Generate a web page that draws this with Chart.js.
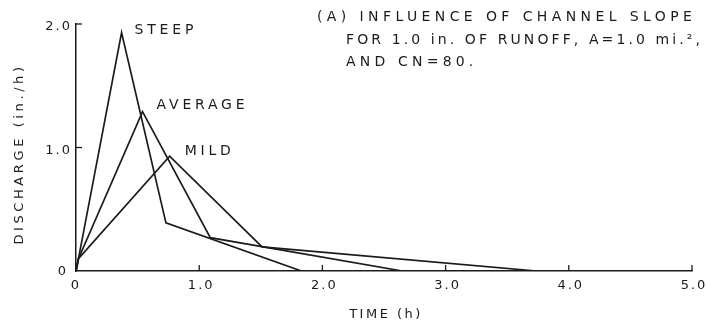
<!DOCTYPE html>
<html>
<head>
<meta charset="utf-8">
<script src="https://cdn.jsdelivr.net/npm/chart.js@4/dist/chart.umd.min.js"></script>
<style>
  html, body { margin: 0; padding: 0; background: #fff; }
  #wrap { width: 706px; height: 323px; }
</style>
</head>
<body>
<div id="wrap"><canvas id="hydroChart" width="706" height="323"></canvas></div>
<script>
// Hydrograph break points: time (h) and discharge (in./h)
const steepTime = [0, 0.02, 0.37, 0.73, 1.83];
const steepFlow = [0, 0.1, 1.93, 0.39, 0];
const averageTime = [0, 0.02, 0.54, 1.09, 2.65];
const averageFlow = [0, 0.1, 1.29, 0.27, 0];
const mildTime = [0, 0.02, 0.76, 1.51, 3.74];
const mildFlow = [0, 0.1, 0.93, 0.195, 0];

const xTicks = [0, 1, 2, 3, 4, 5];
const yTicks = [0, 1, 2];
const curveNames = ["STEEP", "AVERAGE", "MILD"];
const caption = [
  "(A) INFLUENCE OF CHANNEL SLOPE",
  "FOR 1.0 in. OF RUNOFF, A=1.0 mi.\u00b2,",
  "AND CN=80."
];

const INK = "#1b1b1b";
const FONT = "13px 'DejaVu Sans', sans-serif";
const BIG_FONT = "14px 'DejaVu Sans', sans-serif";

function toPoints(ts, qs) {
  return ts.map((t, i) => ({ x: t, y: qs[i] }));
}

function fmt(v) {
  return v === 0 ? "0" : v.toFixed(1);
}

// hand-lettered look: wide spacing between capitals
function spaced(ctx, text, x, y, spacing) {
  ctx.letterSpacing = spacing + "px";
  ctx.fillText(text, x, y);
  ctx.letterSpacing = "0px";
}

const lettering = {
  id: "lettering",
  afterDraw(chart) {
    const ctx = chart.ctx;
    const xs = chart.scales.x, ys = chart.scales.y;
    const area = chart.chartArea;
    ctx.save();
    ctx.fillStyle = INK;
    ctx.strokeStyle = INK;
    ctx.lineWidth = 1.3;
    ctx.font = FONT;
    ctx.textBaseline = "middle";

    // tick marks point into the plot
    xTicks.slice(1).forEach(v => {
      const px = xs.getPixelForValue(v);
      ctx.beginPath();
      ctx.moveTo(px, area.bottom);
      ctx.lineTo(px, area.bottom - 6);
      ctx.stroke();
    });
    yTicks.slice(1).forEach(v => {
      const py = ys.getPixelForValue(v);
      ctx.beginPath();
      ctx.moveTo(area.left, py);
      ctx.lineTo(area.left + 6, py);
      ctx.stroke();
    });

    // tick labels
    ctx.textAlign = "center";
    xTicks.forEach(v => {
      const px = xs.getPixelForValue(v) + (v === 0 ? -1 : 1);
      spaced(ctx, fmt(v), px + 1, area.bottom + 15, 2);
    });
    ctx.textAlign = "right";
    yTicks.forEach(v => {
      const py = ys.getPixelForValue(v) + (v === 0 ? 1 : 3);
      spaced(ctx, fmt(v), area.left - (v === 0 ? 8 : 4), py, 2);
    });

    // axis titles
    ctx.textAlign = "center";
    spaced(ctx, "TIME (h)", (area.left + area.right) / 2 + 2, 315, 2.5);
    ctx.save();
    ctx.translate(20, 154);
    ctx.rotate(-Math.PI / 2);
    spaced(ctx, "DISCHARGE (in./h)", 0, 0, 3.6);
    ctx.restore();

    // curve names beside each peak
    ctx.font = BIG_FONT;
    ctx.textAlign = "left";
    const peaks = [
      [steepTime[2], steepFlow[2], 13, -2],
      [averageTime[2], averageFlow[2], 14, -6],
      [mildTime[2], mildFlow[2], 15, -5]
    ];
    peaks.forEach((p, i) => {
      const px = xs.getPixelForValue(p[0]) + p[2];
      const py = ys.getPixelForValue(p[1]) + p[3];
      spaced(ctx, curveNames[i], px, py, 3.8);
    });

    // caption block
    spaced(ctx, caption[0], 317, 17, 4.4);
    spaced(ctx, caption[1], 346, 40, 3.1);
    spaced(ctx, caption[2], 346, 62, 4.2);
    ctx.restore();
  }
};

const lineStyle = {
  showLine: true,
  borderColor: INK,
  borderWidth: 1.7,
  pointRadius: 0,
  fill: false,
  tension: 0
};

new Chart(document.getElementById("hydroChart"), {
  type: "scatter",
  data: {
    datasets: [
      Object.assign({ label: "Steep", data: toPoints(steepTime, steepFlow) }, lineStyle),
      Object.assign({ label: "Average", data: toPoints(averageTime, averageFlow) }, lineStyle),
      Object.assign({ label: "Mild", data: toPoints(mildTime, mildFlow) }, lineStyle)
    ]
  },
  options: {
    responsive: false,
    animation: false,
    events: [],
    layout: { padding: { left: 0, top: 24, right: 14, bottom: 0 } },
    plugins: { legend: { display: false }, tooltip: { enabled: false } },
    scales: {
      x: {
        type: "linear",
        min: 0,
        max: 5,
        ticks: { display: false },
        grid: { drawOnChartArea: false, drawTicks: false },
        border: { display: true, color: INK, width: 1.5 },
        afterFit(scale) { scale.height = 52; }
      },
      y: {
        type: "linear",
        min: 0,
        max: 2,
        ticks: { display: false },
        grid: { drawOnChartArea: false, drawTicks: false },
        border: { display: true, color: INK, width: 1.5 },
        afterFit(scale) { scale.width = 76; }
      }
    }
  },
  plugins: [lettering]
});
</script>
</body>
</html>
